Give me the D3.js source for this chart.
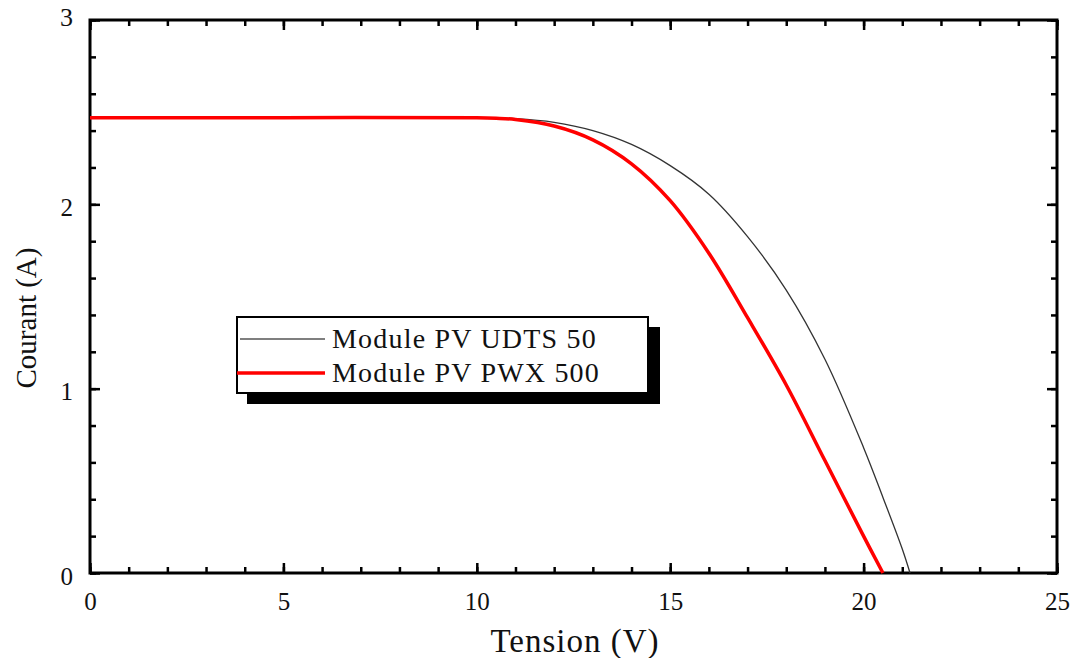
<!DOCTYPE html>
<html>
<head>
<meta charset="utf-8">
<script src="https://cdn.jsdelivr.net/npm/d3@7"></script>
<style>
  body { margin: 0; background: #fff; }
  text { font-family: "Liberation Serif", "Times New Roman", serif; fill: #111; }
</style>
</head>
<body>
<script>
// I-V curves of the two PV modules
const udtsV = [0, 5, 10, 11, 12, 13, 14, 15, 16, 17, 18, 19, 20, 20.5, 21, 21.2];
const udtsI = [2.47, 2.47, 2.47, 2.465, 2.445, 2.40, 2.325, 2.21, 2.055, 1.825, 1.535, 1.16, 0.68, 0.41, 0.13, 0];

const pwxV = [0, 5, 10, 10.5, 11, 12, 13, 14, 15, 16, 17, 18, 19, 20, 20.5];
const pwxI = [2.47, 2.47, 2.47, 2.467, 2.46, 2.425, 2.35, 2.22, 2.02, 1.735, 1.385, 1.02, 0.61, 0.20, 0];

const xTicks = [0, 5, 10, 15, 20, 25];
const yTicks = [0, 1, 2, 3];
const seriesNames = ["Module PV UDTS 50", "Module PV PWX 500"];

const W = 1077, H = 658;
const margin = { top: 20, left: 90 };
const width = 1057 - margin.left;
const height = 573 - margin.top;

const svg = d3.select("body").append("svg")
    .attr("width", W)
    .attr("height", H);

const g = svg.append("g")
    .attr("transform", `translate(${margin.left}, ${margin.top})`);

const x = d3.scaleLinear().domain([0, 25]).range([0, width]);
const y = d3.scaleLinear().domain([0, 3]).range([height, 0]);

// inward ticks on all four sides: majors labelled on bottom/left only
function ticks(axisFn, scale, minor, major, labelled) {
    const minorAxis = axisFn(scale).tickValues(minor).tickSize(-6).tickFormat("").tickSizeOuter(0);
    const majorAxis = axisFn(scale).tickValues(major).tickSize(-10).tickPadding(16)
        .tickSizeOuter(0).tickFormat(d3.format("d"));
    if (!labelled) majorAxis.tickFormat("");
    return [minorAxis, majorAxis];
}

const xMinor = d3.range(0, 25.01, 1);
const yMinor = d3.range(0, 3.01, 0.2);

const [xbMin, xbMaj] = ticks(d3.axisBottom, x, xMinor, xTicks, true);
const [xtMin, xtMaj] = ticks(d3.axisTop, x, xMinor, xTicks, false);
const [ylMin, ylMaj] = ticks(d3.axisLeft, y, yMinor, yTicks, true);
const [yrMin, yrMaj] = ticks(d3.axisRight, y, yMinor, yTicks, false);

function drawAxis(axis, transform) {
    const a = g.append("g").attr("transform", transform).call(axis);
    a.select(".domain").remove();
    a.selectAll(".tick line").attr("stroke", "#000").attr("stroke-width", 2.5);
    a.selectAll(".tick text")
        .attr("font-size", 25)
        .attr("font-family", "Liberation Serif, serif")
        .attr("fill", "#111");
    return a;
}

drawAxis(xbMin, `translate(0, ${height})`);
const xb = drawAxis(xbMaj, `translate(0, ${height})`);
xb.selectAll(".tick text").attr("dy", "0.85em");
drawAxis(xtMin, "translate(0, 0)");
drawAxis(xtMaj, "translate(0, 0)");
drawAxis(ylMin, "translate(0, 0)");
const yl = drawAxis(ylMaj, "translate(0, 0)");
yl.selectAll(".tick text").attr("dy", "0.45em").attr("x", -17);
// the top label is set in a sans face
yl.selectAll(".tick text").filter(d => d === 3)
    .attr("font-family", "Liberation Sans, Arial, sans-serif")
    .attr("font-size", 26)
    .attr("dy", "0.2em");
drawAxis(yrMin, `translate(${width}, 0)`);
drawAxis(yrMaj, `translate(${width}, 0)`);

// frame
g.append("rect")
    .attr("width", width)
    .attr("height", height)
    .attr("fill", "none")
    .attr("stroke", "#000")
    .attr("stroke-width", 3);

const line = d3.line()
    .x(d => x(d[0]))
    .y(d => y(d[1]))
    .curve(d3.curveCatmullRom.alpha(0.5));

const udts = d3.zip(udtsV, udtsI);
const pwx = d3.zip(pwxV, pwxI);

g.append("path")
    .datum(udts)
    .attr("fill", "none")
    .attr("stroke", "#333")
    .attr("stroke-width", 1.3)
    .attr("d", line);

g.append("path")
    .datum(pwx)
    .attr("fill", "none")
    .attr("stroke", "#ff0000")
    .attr("stroke-width", 3.5)
    .attr("d", line);

// legend with drop shadow
const legend = svg.append("g").attr("transform", "translate(237, 317)");
legend.append("rect")
    .attr("x", 10).attr("y", 10)
    .attr("width", 413).attr("height", 77)
    .attr("fill", "#000");
legend.append("rect")
    .attr("width", 411).attr("height", 76)
    .attr("fill", "#fff")
    .attr("stroke", "#000")
    .attr("stroke-width", 2);

const legendItems = [
    { name: seriesNames[0], color: "#555", w: 1.3, x0: 3, y: 22 },
    { name: seriesNames[1], color: "#ff0000", w: 3.5, x0: 0, y: 56 }
];
legendItems.forEach(d => {
    legend.append("line")
        .attr("x1", d.x0).attr("x2", 88)
        .attr("y1", d.y).attr("y2", d.y)
        .attr("stroke", d.color)
        .attr("stroke-width", d.w);
    legend.append("text")
        .attr("x", 95)
        .attr("y", d.y + 9)
        .attr("font-size", 28)
        .attr("letter-spacing", 1.2)
        .text(d.name);
});

// axis titles
svg.append("text")
    .attr("x", 575)
    .attr("y", 652)
    .attr("text-anchor", "middle")
    .attr("font-size", 33)
    .attr("letter-spacing", 1)
    .text("Tension (V)");

svg.append("text")
    .attr("transform", "translate(36, 318) rotate(-90)")
    .attr("text-anchor", "middle")
    .attr("font-size", 29)
    .text("Courant (A)");
</script>
</body>
</html>
